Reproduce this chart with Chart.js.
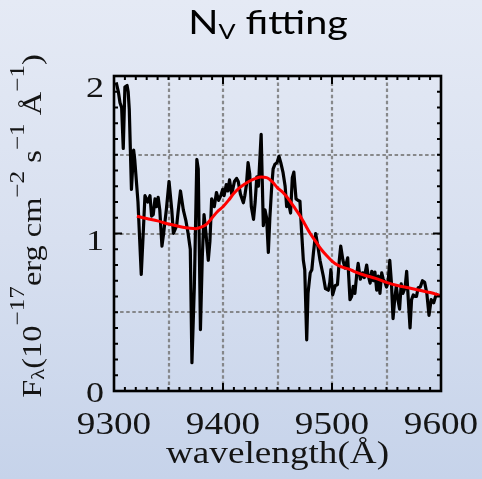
<!DOCTYPE html>
<html>
<head>
<meta charset="utf-8">
<script src="https://cdn.jsdelivr.net/npm/chart.js@4.4.1/dist/chart.umd.min.js"></script>
<style>
  html, body {
    margin: 0; padding: 0; width: 482px; height: 479px; overflow: hidden;
    background: linear-gradient(180deg, #e5eaf5 0%, #d8e0f0 50%, #c6d3ea 100%);
  }
  canvas { display: block; }
</style>
</head>
<body>
<canvas id="c" width="482" height="479"></canvas>
<script>
// Observed spectrum around N V (wavelength in Å, flux in 1e-17 erg/cm^2/s/Å)
const wavelength = [
  9302, 9304, 9305.5, 9307, 9308.5, 9310, 9312, 9313, 9314, 9316, 9318, 9319,
  9322, 9325, 9327, 9328.4, 9331, 9333, 9334.5, 9336, 9337.6, 9339, 9340.5, 9342,
  9344, 9345.5, 9348, 9350.5, 9353, 9354.5, 9357.5, 9359, 9361, 9363.6, 9366, 9368,
  9370, 9371.5, 9373.7, 9376, 9377.3, 9379.3, 9381, 9382.6, 9384.4, 9386.5, 9388, 9389.6,
  9392, 9394, 9396, 9398, 9399.7, 9401, 9403, 9404.5, 9406, 9408, 9410.5, 9412.5,
  9414, 9416, 9418.7, 9420, 9421.5, 9423, 9424.5, 9426, 9428, 9429.5, 9431, 9432.5,
  9435, 9437, 9438.5, 9440, 9441.6, 9443, 9444.7, 9446, 9447.7, 9449.5, 9451.4, 9453,
  9455, 9457, 9458.4, 9460, 9462, 9463.6, 9465, 9467, 9469, 9470.6, 9472, 9473.7,
  9475, 9476.8, 9478, 9480, 9481.5, 9483, 9485, 9487, 9489, 9492, 9494, 9496.6,
  9498, 9499, 9500.6, 9503, 9505, 9506.7, 9508, 9510, 9512, 9514.4, 9516.5, 9518,
  9519.5, 9521, 9522.7, 9524, 9526, 9528, 9529.6, 9531.8, 9533, 9535, 9536.5, 9538,
  9539.4, 9541, 9542.5, 9544, 9545.6, 9547, 9548.6, 9550, 9551.5, 9553, 9554.5, 9556,
  9557.5, 9559, 9560.5, 9562, 9563.5, 9565, 9567, 9568.5, 9570, 9571.6, 9573, 9574.6,
  9576, 9577.5, 9579, 9581, 9583, 9585, 9587, 9589, 9591, 9593.3, 9595, 9597
];
const flux = [
  1.96, 1.90, 1.83, 1.80, 1.54, 1.93, 1.94, 1.90, 1.79, 1.28, 1.53, 1.47,
  1.20, 0.74, 1.03, 1.24, 1.20, 1.24, 1.11, 1.12, 1.22, 1.17, 1.23, 1.15,
  0.92, 1.00, 1.15, 1.33, 1.15, 1.00, 1.05, 1.15, 1.27, 1.15, 1.08, 1.00,
  0.90, 0.18, 0.66, 1.47, 1.41, 0.39, 0.85, 1.12, 1.00, 0.83, 0.95, 1.22,
  1.17, 1.26, 1.21, 1.24, 1.28, 1.24, 1.31, 1.27, 1.34, 1.25, 1.33, 1.35,
  1.33, 1.25, 1.195, 1.24, 1.31, 1.45, 1.38, 1.17, 1.09, 1.20, 1.36, 1.30,
  1.63, 1.05, 1.15, 1.10, 0.88, 1.10, 1.30, 1.41, 1.44, 1.45, 1.49, 1.45,
  1.39, 1.30, 1.17, 1.20, 1.13, 1.355, 1.39, 1.22, 1.21, 1.205, 1.025, 0.83,
  0.77, 0.325, 0.62, 0.75, 0.77, 0.88, 1.00, 0.92, 0.83, 0.73, 0.65, 0.64,
  0.69, 0.77, 0.61, 0.67, 0.675, 0.83, 0.92, 0.83, 0.78, 0.845, 0.58, 0.60,
  0.665, 0.62, 0.74, 0.81, 0.71, 0.75, 0.72, 0.80, 0.74, 0.685, 0.76, 0.70,
  0.755, 0.64, 0.73, 0.62, 0.75, 0.71, 0.69, 0.66, 0.69, 0.83, 0.69, 0.46,
  0.58, 0.665, 0.58, 0.52, 0.68, 0.62, 0.655, 0.76, 0.58, 0.40, 0.58, 0.61,
  0.60, 0.60, 0.655, 0.66, 0.70, 0.69, 0.62, 0.48, 0.58, 0.56, 0.60, 0.62
];

// Best-fit model (continuum + broad N V emission)
const fitWavelength = [
  9321, 9330, 9340, 9350, 9360, 9370, 9375, 9380, 9385, 9390, 9395, 9400,
  9405, 9410, 9415, 9420, 9425, 9430, 9435, 9440, 9445, 9450, 9455, 9460,
  9465, 9470, 9475, 9480, 9485, 9490, 9495, 9500, 9505, 9510, 9515, 9520,
  9530, 9540, 9550, 9560, 9570, 9580, 9590, 9600
];
const fitFlux = [
  1.11, 1.095, 1.08, 1.06, 1.045, 1.033, 1.03, 1.04, 1.06, 1.10, 1.14, 1.17,
  1.21, 1.255, 1.29, 1.315, 1.335, 1.35, 1.358, 1.355, 1.33, 1.29, 1.26, 1.22,
  1.17, 1.12, 1.06, 1.00, 0.95, 0.90, 0.86, 0.825, 0.80, 0.785, 0.775, 0.76,
  0.735, 0.715, 0.69, 0.67, 0.655, 0.64, 0.625, 0.605
];

const xTickLabels = [9300, 9400, 9500, 9600];
const yTickLabels = [0, 1, 2];

// Appearance
const SX = 1.2;                       // horizontal widening of all lettering
const SERIF = '"Liberation Serif", "Times New Roman", serif';
const SANS = 'Lato, "Open Sans", sans-serif';
const INK = '#141414';
const Y_LABEL_SHIFT = { 0: 1, 1: 6, 2: 11 };

// draws a run of text pieces [{t, size, dy, font}] starting from a local origin
function drawRun(ctx, parts, align) {
  ctx.textAlign = 'left';
  ctx.textBaseline = 'alphabetic';
  let total = 0;
  for (const p of parts) {
    ctx.font = p.size + 'px ' + p.font;
    p.w = ctx.measureText(p.t).width;
    total += p.w;
  }
  let x = align === 'center' ? -total / 2 : (align === 'right' ? -total : 0);
  for (const p of parts) {
    ctx.font = p.size + 'px ' + p.font;
    ctx.fillText(p.t, x, p.dy || 0);
    x += p.w;
  }
}

function textAt(ctx, parts, x, y, align, rotate, color) {
  ctx.save();
  ctx.translate(x, y);
  if (rotate) ctx.rotate(-Math.PI / 2);
  ctx.scale(SX, 1);
  ctx.fillStyle = color || INK;
  drawRun(ctx, parts, align);
  ctx.restore();
}

const gridPlugin = {
  id: 'dottedGrid',
  beforeDatasetsDraw(chart) {
    const { ctx, chartArea: a, scales: { x, y } } = chart;
    ctx.save();
    ctx.strokeStyle = 'rgba(120,120,120,0.85)';
    ctx.lineWidth = 2.2;
    ctx.setLineDash([3.5, 2.6]);
    for (let v = 9350; v < 9600; v += 50) {
      const px = Math.round(x.getPixelForValue(v));
      ctx.beginPath(); ctx.moveTo(px, a.bottom); ctx.lineTo(px, a.top); ctx.stroke();
    }
    for (let v = 0.5; v < 2; v += 0.5) {
      const py = Math.round(y.getPixelForValue(v));
      ctx.beginPath(); ctx.moveTo(a.left, py); ctx.lineTo(a.right, py); ctx.stroke();
    }
    ctx.restore();
  }
};

const framePlugin = {
  id: 'frameAndLabels',
  afterDatasetsDraw(chart) {
    const { ctx, chartArea: a, scales: { x, y } } = chart;
    ctx.save();
    ctx.strokeStyle = '#000';
    ctx.lineWidth = 2;
    ctx.setLineDash([]);
    // inward ticks on all four sides
    for (let v = 9300; v <= 9600; v += 10) {
      const px = x.getPixelForValue(v);
      const len = v % 100 === 0 ? 8 : 4;
      ctx.beginPath();
      ctx.moveTo(px, a.bottom); ctx.lineTo(px, a.bottom - len);
      ctx.moveTo(px, a.top); ctx.lineTo(px, a.top + len);
      ctx.stroke();
    }
    for (let i = 0; i <= 20; i++) {
      const v = i / 10;
      const py = y.getPixelForValue(v);
      const len = i % 10 === 0 ? 8 : 4;
      ctx.beginPath();
      ctx.moveTo(a.left, py); ctx.lineTo(a.left + len, py);
      ctx.moveTo(a.right, py); ctx.lineTo(a.right - len, py);
      ctx.stroke();
    }
    // frame
    ctx.lineWidth = 2.6;
    ctx.strokeRect(a.left, a.top, a.right - a.left, a.bottom - a.top);
    ctx.restore();

    // tick labels
    for (const v of xTickLabels) {
      textAt(ctx, [{ t: String(v), size: 31, font: SERIF }], x.getPixelForValue(v), 434, 'center');
    }
    for (const v of yTickLabels) {
      textAt(ctx, [{ t: String(v), size: 30, font: SERIF }],
        95, y.getPixelForValue(v) + Y_LABEL_SHIFT[v] + 10, 'center');
    }

    // axis titles
    textAt(ctx, [{ t: 'wavelength(Å)', size: 31, font: SERIF }], (a.left + a.right) / 2, 463, 'center');
    textAt(ctx, [
      { t: 'F', size: 27, font: SERIF },
      { t: 'λ', size: 19, font: SERIF, dy: 3 },
      { t: '(10', size: 27, font: SERIF },
      { t: '−17', size: 21, font: SERIF, dy: -17 },
      { t: 'erg cm', size: 27, font: SERIF },
      { t: '−2', size: 21, font: SERIF, dy: -17 },
      { t: ' s', size: 27, font: SERIF },
      { t: '−1', size: 21, font: SERIF, dy: -17 },
      { t: ' Å', size: 27, font: SERIF },
      { t: '−1', size: 21, font: SERIF, dy: -17 },
      { t: ')', size: 27, font: SERIF }
    ], 41, 226, 'center', true);

    // title
    textAt(ctx, [
      { t: 'N', size: 33, font: SANS },
      { t: 'V', size: 21, font: SANS, dy: 5 },
      { t: ' fitting', size: 33, font: SANS }
    ], 268, 34, 'center', false, '#000');
  }
};

new Chart(document.getElementById('c'), {
  type: 'line',
  data: {
    datasets: [
      {
        label: 'fit',
        data: fitWavelength.map((w, i) => ({ x: w, y: fitFlux[i] })),
        borderColor: '#ff0000',
        borderWidth: 3,
        pointRadius: 0,
        cubicInterpolationMode: 'monotone',
        order: 0
      },
      {
        label: 'spectrum',
        data: wavelength.map((w, i) => ({ x: w, y: flux[i] })),
        borderColor: '#000000',
        borderWidth: 3.2,
        pointRadius: 0,
        tension: 0,
        borderJoinStyle: 'round',
        order: 1
      }
    ]
  },
  options: {
    responsive: false,
    animation: false,
    events: [],
    layout: { padding: { left: 114, top: 76, right: 41, bottom: 88 } },
    scales: {
      x: { type: 'linear', min: 9300, max: 9600, display: false },
      y: { type: 'linear', min: 0, max: 2, display: false }
    },
    plugins: { legend: { display: false }, tooltip: { enabled: false }, title: { display: false } }
  },
  plugins: [gridPlugin, framePlugin]
});
</script>
</body>
</html>
